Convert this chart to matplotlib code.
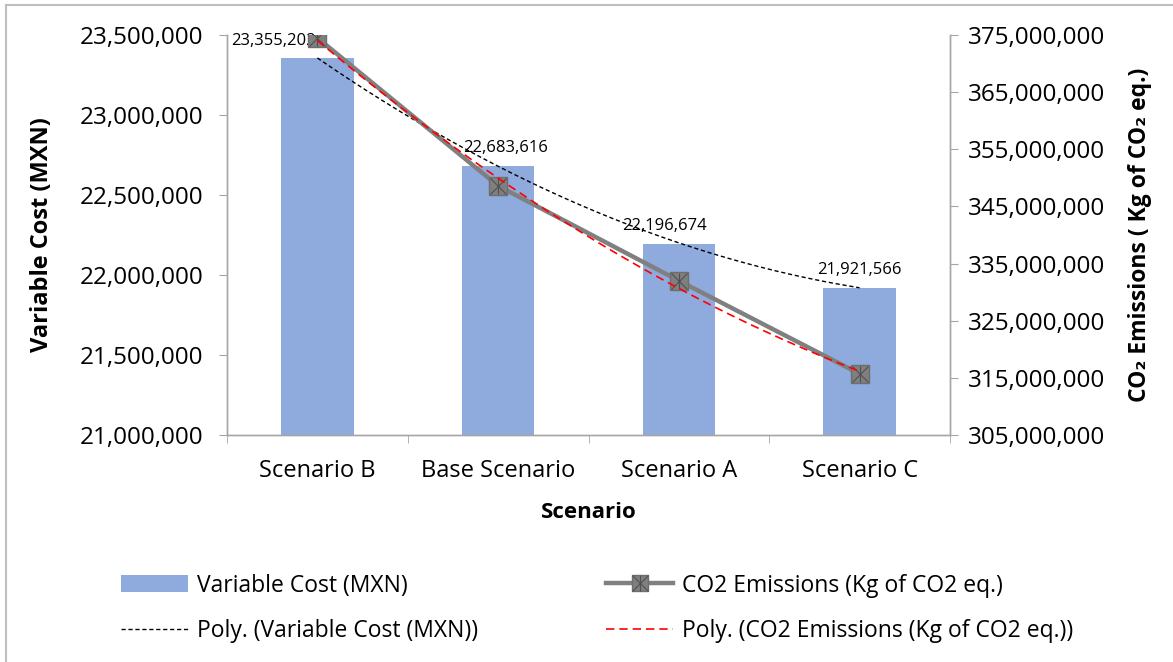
import matplotlib
matplotlib.use("Agg")
import matplotlib.pyplot as plt
import matplotlib.ticker as mticker
from matplotlib.lines import Line2D
from matplotlib.patches import Patch
from matplotlib.legend_handler import HandlerTuple
import numpy as np

plt.rcParams['font.family'] = ['Open Sans', 'DejaVu Sans']

# scenarios and results
scenarios = ["Scenario B", "Base Scenario", "Scenario A", "Scenario C"]
variable_cost = [23355202, 22683616, 22196674, 21921566]
co2_emissions = [374500000, 348600000, 332000000, 315700000]

cost_ticks = [21000000, 21500000, 22000000, 22500000, 23000000, 23500000]
co2_ticks = [305000000, 315000000, 325000000, 335000000, 345000000,
             355000000, 365000000, 375000000]

bar_color = "#8FAADC"
line_gray = "#808080"
axis_gray = "#A6A6A6"

fig = plt.figure(figsize=(11.73, 6.62), dpi=100)
ax = fig.add_axes([227 / 1173, 1 - 435 / 662, (950 - 227) / 1173, 400 / 662])
ax2 = ax.twinx()

x = np.arange(len(scenarios))

# bars for the variable cost, labels nudged a little sideways
ax.bar(x, variable_cost, width=0.4, color=bar_color, zorder=2)
label_dx = [-0.01, 0.04, -0.08, 0.0]
for i, v in enumerate(variable_cost):
    ax.text(i + label_dx[i], v + 60000, f"{v:,}", ha='right' if i == 0 else 'center',
            va='bottom', fontsize=12, zorder=3)

# 2nd order trendlines
xs = np.linspace(0, len(scenarios) - 1, 200)
cost_fit = np.polyval(np.polyfit(x, variable_cost, 2), xs)
co2_fit = np.polyval(np.polyfit(x, co2_emissions, 2), xs)
ax.plot(xs, cost_fit, color='black', lw=1.0, ls=(0, (3, 2)), zorder=3)

ax2.plot(x, co2_emissions, color=line_gray, lw=3.2, zorder=3)
ax2.plot(x, co2_emissions, ls='none', marker='s', ms=13, color='#7F7F7F',
         mec='#6E6E6E', zorder=4)
ax2.plot(x, co2_emissions, ls='none', marker='x', ms=12, mew=0.8, color='#505050', zorder=5)
ax2.plot(x, co2_emissions, ls='none', marker='|', ms=12, mew=0.8, color='#505050', zorder=5)
ax2.plot(xs, co2_fit, color='red', lw=1.2, ls=(0, (5, 3)), zorder=6)

ax.set_xlim(-0.5, 3.5)
ax.set_ylim(21000000, 23500000)
ax2.set_ylim(305000000, 375000000)
ax.set_yticks(cost_ticks)
ax2.set_yticks(co2_ticks)
fmt = mticker.FuncFormatter(lambda v, p: f"{int(v):,}")
ax.yaxis.set_major_formatter(fmt)
ax2.yaxis.set_major_formatter(fmt)

ax.set_xticks(x)
ax.set_xticklabels(scenarios)
ax.set_xticks(np.arange(-0.5, 4, 1), minor=True)
ax.tick_params(axis='x', which='major', length=0, labelsize=17, pad=17)
ax.tick_params(axis='x', which='minor', length=6, color=axis_gray, direction='out')
ax.tick_params(axis='y', length=6, color=axis_gray, labelsize=17.5, pad=11)
ax2.tick_params(axis='y', length=6, color=axis_gray, labelsize=17.5, pad=7)

for a in (ax, ax2):
    a.spines['top'].set_visible(False)
    for s in ('left', 'right', 'bottom'):
        a.spines[s].set_color(axis_gray)
        a.spines[s].set_linewidth(1.0)

ax.set_xlabel("Scenario", fontsize=16, fontweight='bold', labelpad=14)
ax.set_ylabel("Variable Cost (MXN)", fontsize=17, fontweight='bold')
ax2.set_ylabel("CO\u2082 Emissions ( Kg of CO\u2082 eq.)", fontsize=16.5,
               fontweight='bold')
ax.yaxis.set_label_coords((54 - 227) / 723, 0.5)
ax2.yaxis.set_label_coords((1128 - 227) / 723, 0.5)

# legend below the plot
co2_handle = (
    Line2D([], [], color=line_gray, lw=3.2, marker='s', ms=12, mfc='#7F7F7F', mec='#6E6E6E'),
    Line2D([], [], ls='none', marker='x', ms=11, mew=0.8, color='#505050'),
    Line2D([], [], ls='none', marker='|', ms=11, mew=0.8, color='#505050'),
)
handles = [
    Patch(facecolor=bar_color, edgecolor='none'),
    Line2D([], [], color='black', lw=1.0, ls=(0, (3, 2))),
    co2_handle,
    Line2D([], [], color='red', lw=1.2, ls=(0, (5, 3))),
]
labels = ["Variable Cost (MXN)", "Poly. (Variable Cost (MXN))",
          "CO2 Emissions (Kg of CO2 eq.)", "Poly. (CO2 Emissions (Kg of CO2 eq.))"]
fig.legend(handles, labels, ncol=2, loc='upper left', bbox_to_anchor=(100 / 1173, 1 - 553 / 662),
           frameon=False, fontsize=16.5, handlelength=2.95, handleheight=0.75,
           handletextpad=0.4, columnspacing=5.55, labelspacing=0.92,
           handler_map={tuple: HandlerTuple(ndivide=1, pad=0)})

# chart area border
fig.add_artist(plt.Line2D([6 / 1173, 1], [1 - 5 / 662, 1 - 5 / 662], color='#BFBFBF', lw=1.5))
fig.add_artist(plt.Line2D([6 / 1173, 6 / 1173], [0, 1 - 5 / 662], color='#BFBFBF', lw=1.5))

fig.savefig("out.png", dpi=100)
